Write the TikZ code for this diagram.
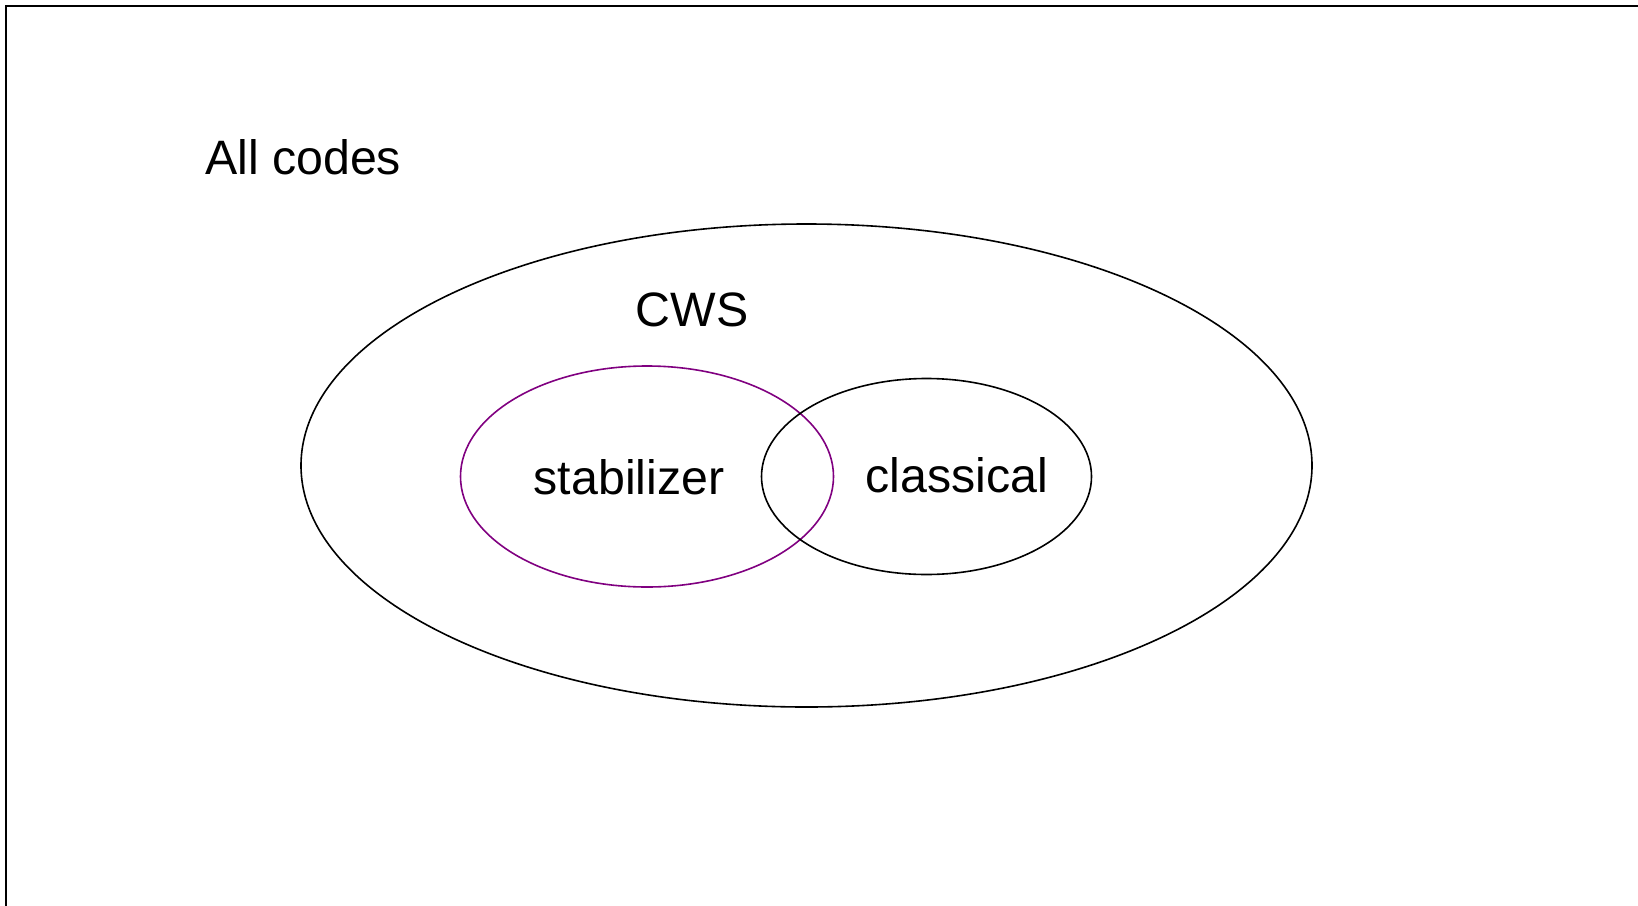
\documentclass[tikz,border=0pt]{standalone}
\usepackage{fontspec}
\setmainfont{Liberation Sans}
\definecolor{stabpurple}{RGB}{128,0,128}
\begin{document}
\begin{tikzpicture}[x=1pt,y=-1pt,
  setline/.style={line width=1.6pt},
  lbl/.style={font=\fontsize{48.3}{52}\selectfont, inner sep=0pt, anchor=base}]
\useasboundingbox (0,0) rectangle (1638,905);
\begin{scope}
\clip (0,0) rectangle (1638,905);
\draw[line width=2.2pt] (6,6) rectangle (1700,1000);
\end{scope}
\draw[setline] (806.5,465.5) ellipse [x radius=505.5, y radius=241.5];
\draw[setline, stabpurple] (647,476.5) ellipse [x radius=186.5, y radius=110.5];
\draw[setline] (926.5,476.5) ellipse [x radius=165, y radius=98];
\node[lbl, anchor=base west] (all) at (205,174) {All codes};
\node[lbl] (cws) at (692,326) {CWS};
\node[lbl] (stab) at (629,494) {stabilizer};
\node[lbl] (class) at (957,492) {classical};
\end{tikzpicture}
\end{document}
